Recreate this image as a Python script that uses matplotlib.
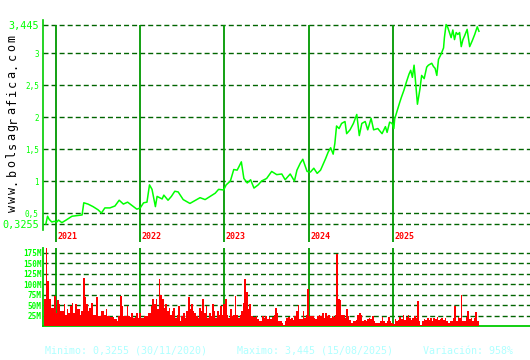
import matplotlib
matplotlib.use("Agg")
import matplotlib.pyplot as plt
import numpy as np

# price (decimal year, value)
price_years = [
    2020.88, 2020.90, 2020.92, 2020.95, 2020.98, 2021.01, 2021.03, 2021.07, 2021.12, 2021.19,
    2021.25, 2021.31, 2021.33, 2021.38, 2021.44, 2021.50, 2021.54, 2021.58, 2021.64, 2021.70,
    2021.75, 2021.80, 2021.85, 2021.90, 2021.96, 2022.00, 2022.04, 2022.08, 2022.11, 2022.14,
    2022.18, 2022.20, 2022.26, 2022.28, 2022.33, 2022.37, 2022.41, 2022.45, 2022.51, 2022.59,
    2022.71, 2022.77, 2022.83, 2022.89, 2022.93, 2022.99, 2023.02, 2023.07, 2023.11, 2023.15,
    2023.17, 2023.20, 2023.23, 2023.27, 2023.31, 2023.35, 2023.40, 2023.44, 2023.50, 2023.56,
    2023.62, 2023.68, 2023.72, 2023.78, 2023.83, 2023.86, 2023.90, 2023.93, 2023.98, 2024.02,
    2024.06, 2024.10, 2024.14, 2024.20, 2024.23, 2024.26, 2024.29, 2024.31, 2024.33, 2024.36,
    2024.39, 2024.43, 2024.45, 2024.49, 2024.53, 2024.57, 2024.60, 2024.63, 2024.67, 2024.70,
    2024.74, 2024.77, 2024.82, 2024.87, 2024.91, 2024.93, 2024.96, 2024.99, 2025.01, 2025.02,
    2025.05, 2025.08, 2025.10, 2025.13, 2025.16, 2025.19, 2025.21, 2025.23, 2025.25, 2025.26,
    2025.29, 2025.32, 2025.34, 2025.37, 2025.40, 2025.42, 2025.46, 2025.48, 2025.50, 2025.52,
    2025.54, 2025.57, 2025.60, 2025.61, 2025.62, 2025.63, 2025.65, 2025.67, 2025.69, 2025.71,
    2025.73, 2025.75, 2025.77, 2025.79, 2025.81, 2025.83, 2025.85, 2025.88, 2025.91, 2025.94,
    2025.97, 2026.00, 2026.02,
]
price_values = [
    0.33, 0.45, 0.40, 0.36, 0.37, 0.36, 0.39, 0.35, 0.39, 0.45,
    0.46, 0.47, 0.66, 0.64, 0.60, 0.55, 0.50, 0.58, 0.58, 0.61,
    0.70, 0.64, 0.67, 0.62, 0.56, 0.58, 0.66, 0.67, 0.94, 0.87,
    0.60, 0.76, 0.72, 0.78, 0.70, 0.76, 0.84, 0.83, 0.71, 0.65,
    0.74, 0.71, 0.76, 0.81, 0.87, 0.86, 0.94, 1.00, 1.18, 1.17,
    1.22, 1.30, 1.04, 0.97, 1.02, 0.89, 0.94, 1.00, 1.04, 1.15,
    1.10, 1.11, 1.02, 1.11, 1.00, 1.17, 1.28, 1.34, 1.15, 1.14,
    1.20, 1.12, 1.17, 1.35, 1.45, 1.52, 1.42, 1.59, 1.86, 1.82,
    1.90, 1.93, 1.74, 1.80, 1.90, 2.04, 1.71, 1.90, 1.93, 1.80,
    1.98, 1.80, 1.82, 1.74, 1.85, 1.76, 1.92, 1.90, 1.82, 1.97,
    2.10, 2.23, 2.31, 2.42, 2.55, 2.67, 2.73, 2.62, 2.81, 2.67,
    2.20, 2.44, 2.65, 2.60, 2.78, 2.81, 2.84, 2.79, 2.76, 2.65,
    2.90, 2.98, 3.08, 3.24, 3.34, 3.445, 3.40, 3.32, 3.24, 3.36,
    3.21, 3.32, 3.29, 3.32, 3.10, 3.21, 3.27, 3.37, 3.10, 3.19,
    3.29, 3.41, 3.34,
]

# weekly volume, millions
volume_m = [
    65, 185, 108, 65, 44, 44, 72, 31, 63, 52, 36, 36, 52, 27, 40, 31, 48, 56, 31, 52,
    40, 40, 27, 36, 115, 69, 52, 36, 44, 56, 27, 27, 69, 23, 23, 36, 36, 27, 40, 23,
    23, 22, 22, 17, 17, 13, 23, 72, 48, 23, 23, 48, 23, 22, 31, 19, 22, 31, 19, 31,
    19, 19, 25, 25, 31, 31, 48, 65, 52, 65, 40, 111, 73, 65, 44, 52, 36, 44, 27, 36,
    44, 19, 27, 48, 11, 23, 31, 19, 36, 69, 40, 52, 36, 31, 23, 19, 44, 36, 65, 31,
    48, 19, 31, 23, 52, 36, 19, 36, 27, 48, 27, 52, 65, 27, 19, 40, 23, 27, 72, 27,
    19, 27, 36, 56, 111, 82, 40, 52, 25, 22, 22, 23, 17, 11, 11, 25,
    19, 23, 17, 22, 17, 22, 27, 44, 31, 13, 11, 8, 3, 13, 19, 22, 17, 19, 15, 23,
    36, 50, 17, 17, 36, 19, 27, 88, 23, 25, 23, 19, 17, 23, 27, 23, 31, 19, 31, 23,
    27, 19, 23, 22, 27, 172, 65, 63, 27, 27, 19, 40, 25, 15, 8, 11, 13, 15, 27, 31,
    27, 11, 15, 11, 17, 19, 17, 23, 11, 8, 8, 6, 11, 22, 11, 8, 11, 22, 11, 6,
    5, 17, 11, 15, 22, 17, 27, 15, 22, 27, 19, 15, 19, 25, 19, 60, 13, 2, 13, 17,
    15, 19, 15, 19, 13, 19, 17, 22, 15, 17, 19, 15, 19, 11, 8, 11, 13, 19, 47, 13,
    22, 19, 73, 11, 13, 22, 36, 17, 19, 13, 19, 33, 11,
]
volume_start = 2020.87

year_marks = [2021, 2022, 2023, 2024, 2025]
price_ticks = [0.3255, 0.5, 1, 1.5, 2, 2.5, 3, 3.445]
price_tick_labels = ["0,3255", "0,5", "1", "1,5", "2", "2,5", "3", "3,445"]
volume_ticks = [25, 50, 75, 100, 125, 150, 175]
volume_tick_labels = ["25M", "50M", "75M", "100M", "125M", "150M", "175M"]
site = "www.bolsagrafica.com"
footer = "Minimo: 0,3255 (30/11/2020)     Maximo: 3,445 (15/08/2025)     Variación: 958%"

W, H = 530, 360
MONO = "DejaVu Sans Mono"
GRID = "#006400"
VLINE = "#009900"
SPINE = "#00CC00"
LABEL = "#00FF00"


def px_rect(left, top, right, bottom):
    return [left / W, 1 - bottom / H, (right - left) / W, (bottom - top) / H]


def dashed(ax, y):
    ax.axhline(y, color=GRID, lw=1.0, dashes=(3.6, 2.2), zorder=1)


fig = plt.figure(figsize=(W / 100, H / 100), dpi=100)
fig.patch.set_facecolor("white")
xlim = (2020.846, 2026.626)

# price panel
ax = fig.add_axes(px_rect(43, 20, 530, 242))
ax.set_xlim(*xlim)
ax.set_ylim(0.0474, 3.516)
for s in ax.spines.values():
    s.set_visible(False)
for t in price_ticks:
    dashed(ax, t)
ax.vlines(year_marks, 0.0474, 3.445, color=VLINE, lw=1.3, zorder=2)
ax.plot(price_years, price_values, color="#00FF00", lw=1.1, zorder=3)
ax.plot([0, 0], [0.054, 1], transform=ax.transAxes, clip_on=False, color=SPINE, lw=1.2)
ax.set_xticks([])
ax.set_yticks(price_ticks, price_tick_labels)
ax.tick_params(axis="y", length=0, pad=3, labelcolor=LABEL)
for lab, txt in zip(ax.get_yticklabels(), price_tick_labels):
    lab.set_family(MONO)
    lab.set_fontsize(7.3 if txt in ("0,3255", "3,445") else 5.5)
for yr in year_marks:
    ax.text(yr + 0.015, 0.027, str(yr), transform=ax.get_xaxis_transform(), color="#FF0000",
            fontsize=6, fontweight="bold", family=MONO, ha="left", va="center")

# volume panel
ax2 = fig.add_axes(px_rect(43, 248, 530, 326))
ax2.set_xlim(*xlim)
ax2.set_ylim(0, 186)
vol_x = volume_start + np.arange(len(volume_m)) / 52.18
for t in volume_ticks:
    dashed(ax2, t)
ax2.vlines(year_marks, 0, 186, color=VLINE, lw=1.3, zorder=1)
ax2.bar(vol_x, volume_m, width=1 / 52.18, color="#FF0000", linewidth=0, zorder=3)
for name, s in ax2.spines.items():
    if name in ("left", "bottom"):
        s.set_color(SPINE)
        s.set_linewidth(1.3)
    else:
        s.set_visible(False)
ax2.set_xticks([])
ax2.set_yticks(volume_ticks, volume_tick_labels)
ax2.tick_params(axis="y", length=0, pad=1, labelcolor=LABEL, labelsize=5.5)
for lab in ax2.get_yticklabels():
    lab.set_family(MONO)
    lab.set_fontweight("bold")

# spaced site name up the left side, one glyph at a time
for i, ch in enumerate(site):
    fig.text(12 / W, 1 - (208 - i * 8.9) / H, ch, rotation=90, fontsize=8.5, family=MONO,
             color="black", ha="center", va="center")
fig.text(45 / W, 1 - 352 / H, footer, fontsize=7.2, family=MONO, color="#B0FFFF",
         ha="left", va="center")

fig.savefig("out.png", dpi=100, facecolor="white")
